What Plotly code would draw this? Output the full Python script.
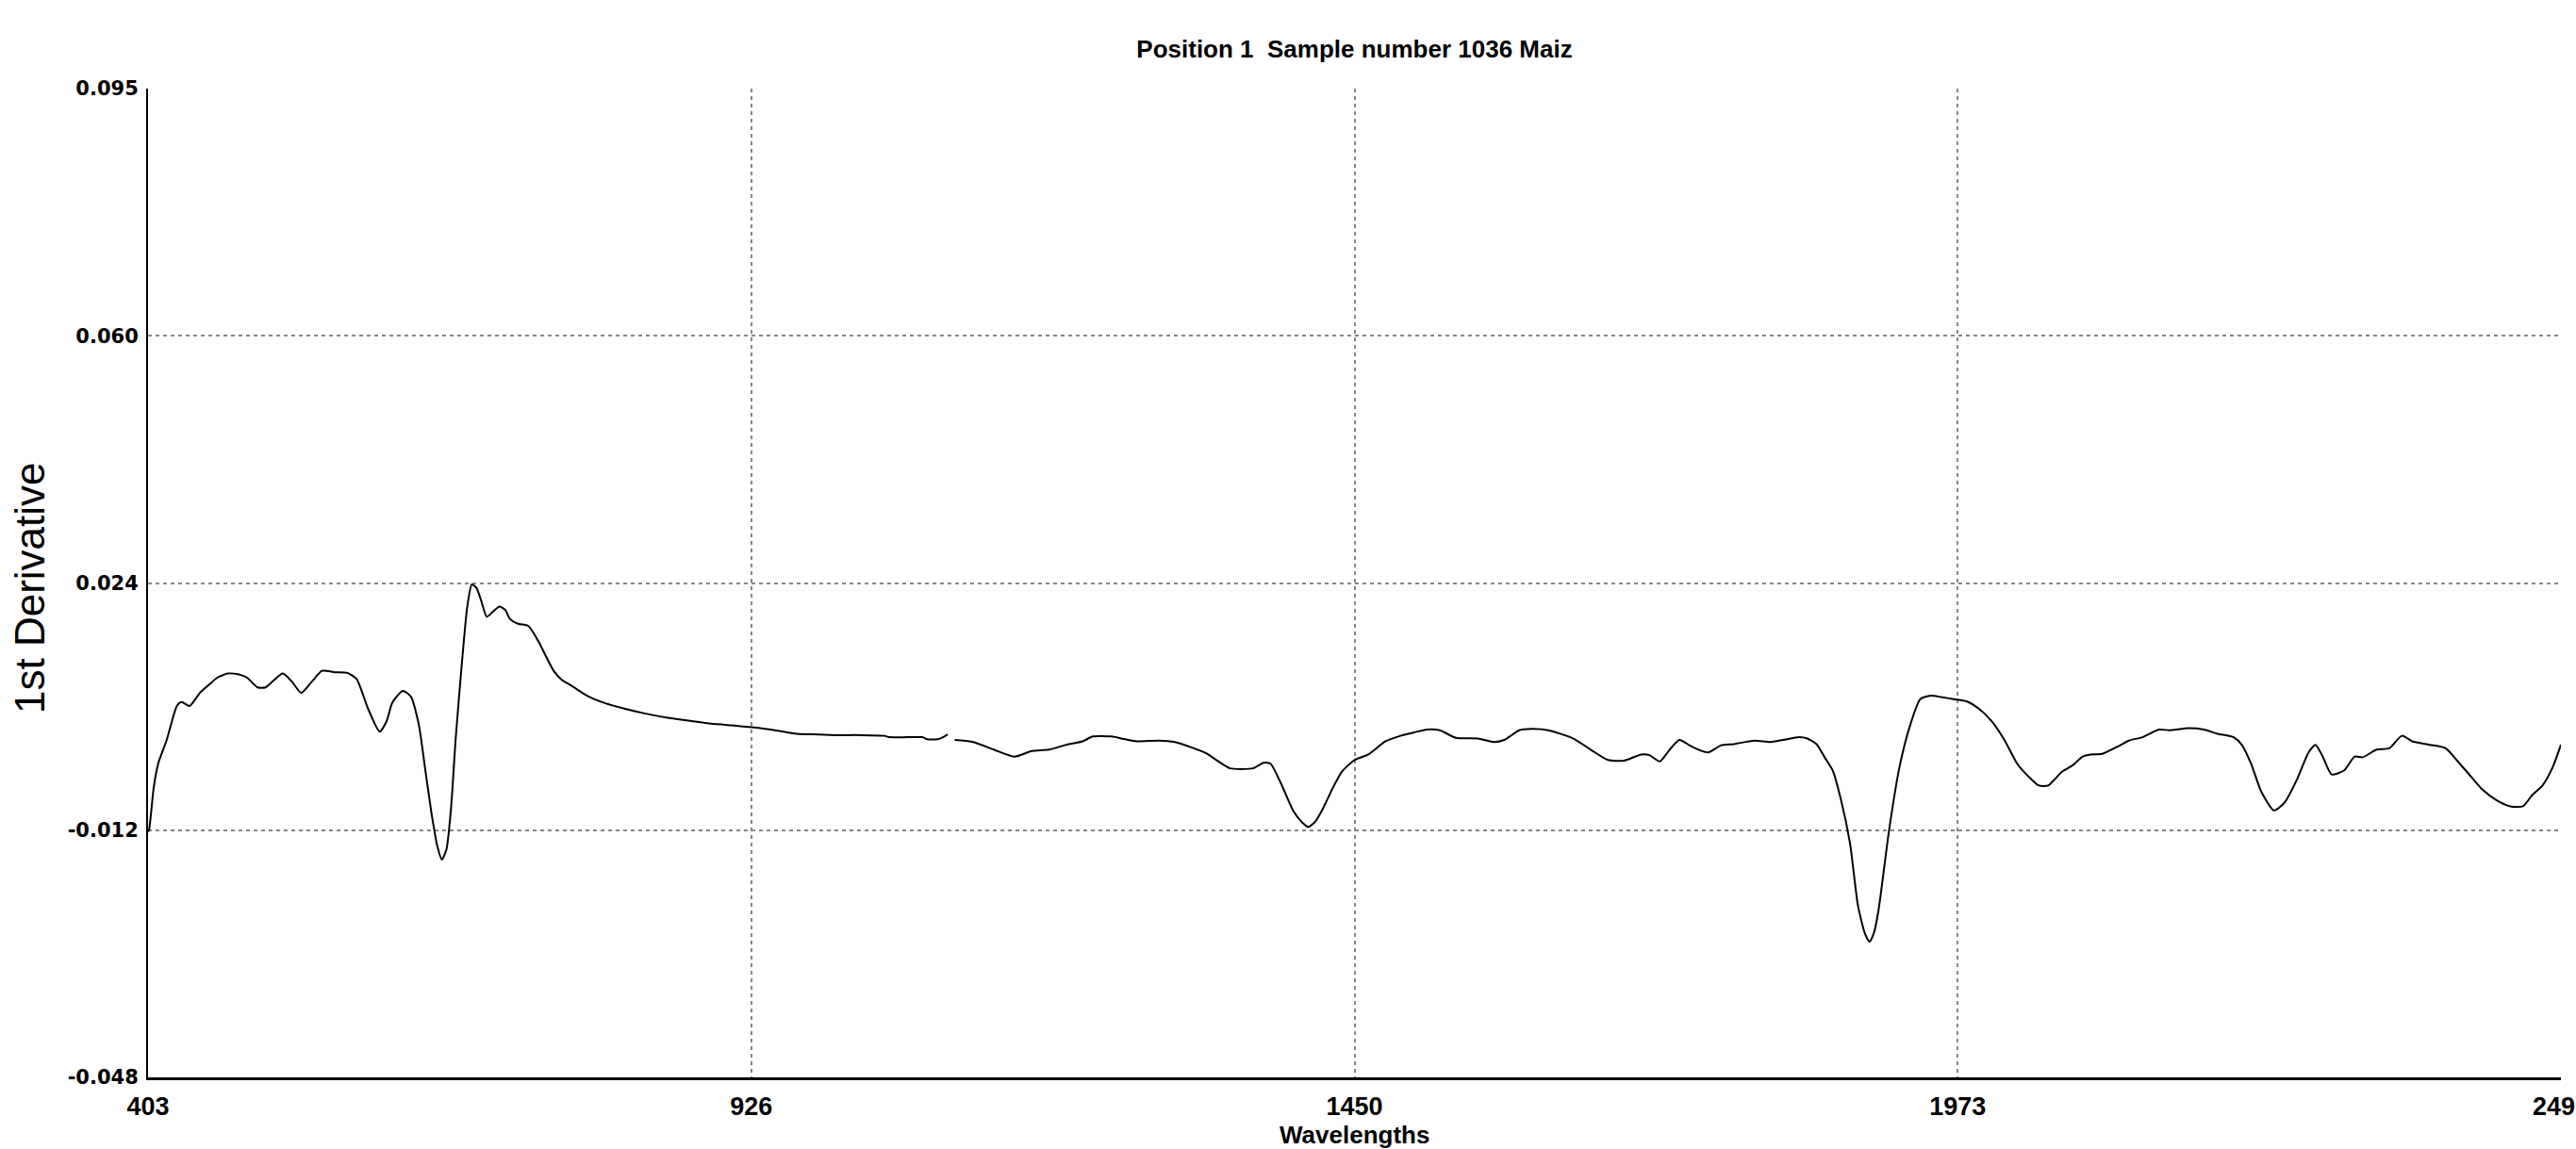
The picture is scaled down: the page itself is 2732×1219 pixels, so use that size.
import plotly.graph_objects as go

# ---- data ----
title_text = "Position 1  Sample number 1036 Maiz"
x_title = "Wavelengths"
y_title = "1st Derivative"

x_tick_values = [403, 926.5, 1450, 1973.5, 2497]
x_tick_labels = ["403", "926", "1450", "1973", "2497"]
y_range = [-0.048, 0.095]
y_tick_labels = ["-0.048", "-0.012", "0.024", "0.060", "0.095"]

# visible detector segment
wl_vis = [403, 404, 408, 412, 419, 428, 432, 439, 448, 456, 463, 472, 481, 489, 498, 505,
          512, 520, 528, 536, 545, 554, 565, 576, 584, 594, 604, 610, 615, 624, 631, 638,
          644, 649, 654, 658, 662, 666, 670, 675, 680, 684, 688, 692, 697, 702, 708, 713,
          717, 724, 733, 742, 748, 755, 762, 770, 784, 800, 817, 835, 854, 872, 890, 910,
          929, 947, 966, 985, 1002, 1020, 1042, 1046, 1062, 1075, 1079, 1088, 1093, 1097]
d1_vis = [-0.0125, -0.0121, -0.0060, -0.0025, 0.0007, 0.0057, 0.0063, 0.0057, 0.0076, 0.0088,
          0.0098, 0.0104, 0.0103, 0.0098, 0.0084, 0.0084, 0.0094, 0.0104, 0.0092, 0.0076,
          0.0092, 0.0108, 0.0106, 0.0105, 0.0096, 0.0053, 0.0020, 0.0035, 0.0062, 0.0079,
          0.0071, 0.0030, -0.0040, -0.0098, -0.0145, -0.0165, -0.0150, -0.0090, 0.0010,
          0.0112, 0.0200, 0.0233, 0.0228, 0.0210, 0.0186, 0.0193, 0.0201, 0.0196, 0.0183,
          0.0176, 0.0173, 0.0150, 0.0130, 0.0108, 0.0095, 0.0087, 0.0072, 0.0061, 0.0053,
          0.0046, 0.0040, 0.0036, 0.0032, 0.0029, 0.0026, 0.0022, 0.0017, 0.0016, 0.0015,
          0.0015, 0.0014, 0.0012, 0.0012, 0.0012, 0.0009, 0.0009, 0.0012, 0.0016]

# NIR detector segment
wl_nir = [1103, 1119, 1137, 1155, 1170, 1185, 1200, 1214, 1223, 1239, 1251, 1261, 1280, 1294,
          1309, 1322, 1331, 1342, 1362, 1371, 1377, 1386, 1397, 1405, 1410, 1416, 1423, 1431,
          1439, 1450, 1462, 1477, 1490, 1502, 1513, 1524, 1538, 1557, 1571, 1580, 1593, 1604,
          1618, 1640, 1655, 1670, 1684, 1699, 1706, 1715, 1724, 1732, 1741, 1750, 1757, 1768,
          1779, 1797, 1811, 1822, 1836, 1843, 1851, 1858, 1865, 1872, 1880, 1887, 1893, 1897,
          1901, 1905, 1914, 1923, 1932, 1941, 1950, 1959, 1970, 1981, 1992, 2003, 2014, 2025,
          2035, 2044, 2052, 2064, 2073, 2082, 2089, 2099, 2113, 2122, 2134, 2148, 2157, 2174,
          2187, 2199, 2213, 2220, 2228, 2237, 2248, 2257, 2268, 2278, 2284, 2290, 2298, 2309,
          2318, 2325, 2337, 2348, 2359, 2368, 2383, 2397, 2408, 2419, 2429, 2441, 2453, 2464,
          2472, 2481, 2490, 2497]
d1_nir = [0.0008, 0.0005, -0.0006, -0.0016, -0.0008, -0.0006, 0.0001, 0.0006, 0.0013, 0.0013,
          0.0009, 0.0006, 0.0007, 0.0005, -0.0003, -0.0012, -0.0022, -0.0033, -0.0033, -0.0025,
          -0.0026, -0.0054, -0.0095, -0.0112, -0.0118, -0.0110, -0.0090, -0.0062, -0.0038,
          -0.0021, -0.0013, 0.0006, 0.0014, 0.0019, 0.0023, 0.0022, 0.0011, 0.0010, 0.0005,
          0.0008, 0.0022, 0.0024, 0.0022, 0.0010, -0.0006, -0.0021, -0.0022, -0.0013, -0.0014,
          -0.0023, -0.0005, 0.0008, 0.0000, -0.0007, -0.0010, 0.0000, 0.0002, 0.0007, 0.0005,
          0.0008, 0.0012, 0.0010, 0.0002, -0.0017, -0.0036, -0.0077, -0.0141, -0.0232, -0.0272,
          -0.0284, -0.0270, -0.0236, -0.0122, -0.0031, 0.0028, 0.0067, 0.0072, 0.0070, 0.0067,
          0.0064, 0.0053, 0.0035, 0.0008, -0.0026, -0.0045, -0.0058, -0.0058, -0.0038, -0.0029,
          -0.0016, -0.0013, -0.0012, -0.0001, 0.0007, 0.0012, 0.0023, 0.0022, 0.0025, 0.0023,
          0.0017, 0.0012, 0.0001, -0.0026, -0.0067, -0.0094, -0.0083, -0.0049, -0.0010, 0.0001,
          -0.0015, -0.0042, -0.0036, -0.0016, -0.0017, -0.0006, -0.0004, 0.0014, 0.0006, 0.0001,
          -0.0004, -0.0024, -0.0045, -0.0064, -0.0079, -0.0088, -0.0088, -0.0072, -0.0058,
          -0.0031, 0.0001]

# evenly spaced y grid positions, labelled with the rounded values shown
n_y = len(y_tick_labels)
y_tick_values = [y_range[0] + i * (y_range[1] - y_range[0]) / (n_y - 1) for i in range(n_y)]

line_style = dict(color="black", width=2, shape="spline", smoothing=0.6)

fig = go.Figure()
fig.add_trace(go.Scatter(x=wl_vis, y=d1_vis, mode="lines", line=line_style,
                         showlegend=False, hoverinfo="x+y"))
fig.add_trace(go.Scatter(x=wl_nir, y=d1_nir, mode="lines", line=line_style,
                         showlegend=False, hoverinfo="x+y"))

W, H = 2732, 1219
L, R, T, B = 157, 16, 94, 76
plot_w = W - L - R
plot_h = H - T - B

grid = dict(showgrid=True, gridcolor="#858585", gridwidth=1.5, griddash="4px,4px")

fig.update_layout(
    template="none",
    width=W, height=H,
    margin=dict(l=L, r=R, t=T, b=B, pad=0),
    paper_bgcolor="white", plot_bgcolor="white",
    title=dict(text="<b>" + title_text + "</b>", x=0.5, xref="paper", xanchor="center",
               y=1 - 52 / H, yref="container", yanchor="middle",
               font=dict(family="Liberation Sans", size=26, color="black")),
    xaxis=dict(range=[x_tick_values[0], x_tick_values[-1]], tickvals=x_tick_values,
               ticktext=["<b>%s</b>" % t for t in x_tick_labels], ticks="",
               tickfont=dict(family="Liberation Sans", size=27, color="black"),
               ticklabelstandoff=5, ticklabeloverflow="allow",
               showline=True, linecolor="black", linewidth=3, mirror=False,
               zeroline=False, automargin=False, **grid),
    yaxis=dict(range=y_range, tickvals=y_tick_values,
               ticktext=["<b>%s</b>" % t for t in y_tick_labels], ticks="",
               tickfont=dict(family="DejaVu Sans", size=21, color="black"),
               ticklabelstandoff=4, ticklabeloverflow="allow",
               showline=True, linecolor="black", linewidth=2, mirror=False,
               zeroline=False, automargin=False, **grid),
    annotations=[
        dict(text=y_title, textangle=-90, xref="paper", yref="paper",
             x=(31 - L) / plot_w, y=(H - B - 624) / plot_h, xanchor="center",
             yanchor="middle", showarrow=False,
             font=dict(family="Liberation Sans", size=44, color="black")),
        dict(text="<b>" + x_title + "</b>", xref="paper", yref="paper", x=0.5,
             y=-(1204 - (H - B)) / plot_h, xanchor="center", yanchor="middle",
             showarrow=False, font=dict(family="Liberation Sans", size=26, color="black")),
    ],
)

fig.write_html("out.html", config={"displayModeBar": False},
               post_script="document.body.style.margin='0';document.body.style.overflow='hidden';")
